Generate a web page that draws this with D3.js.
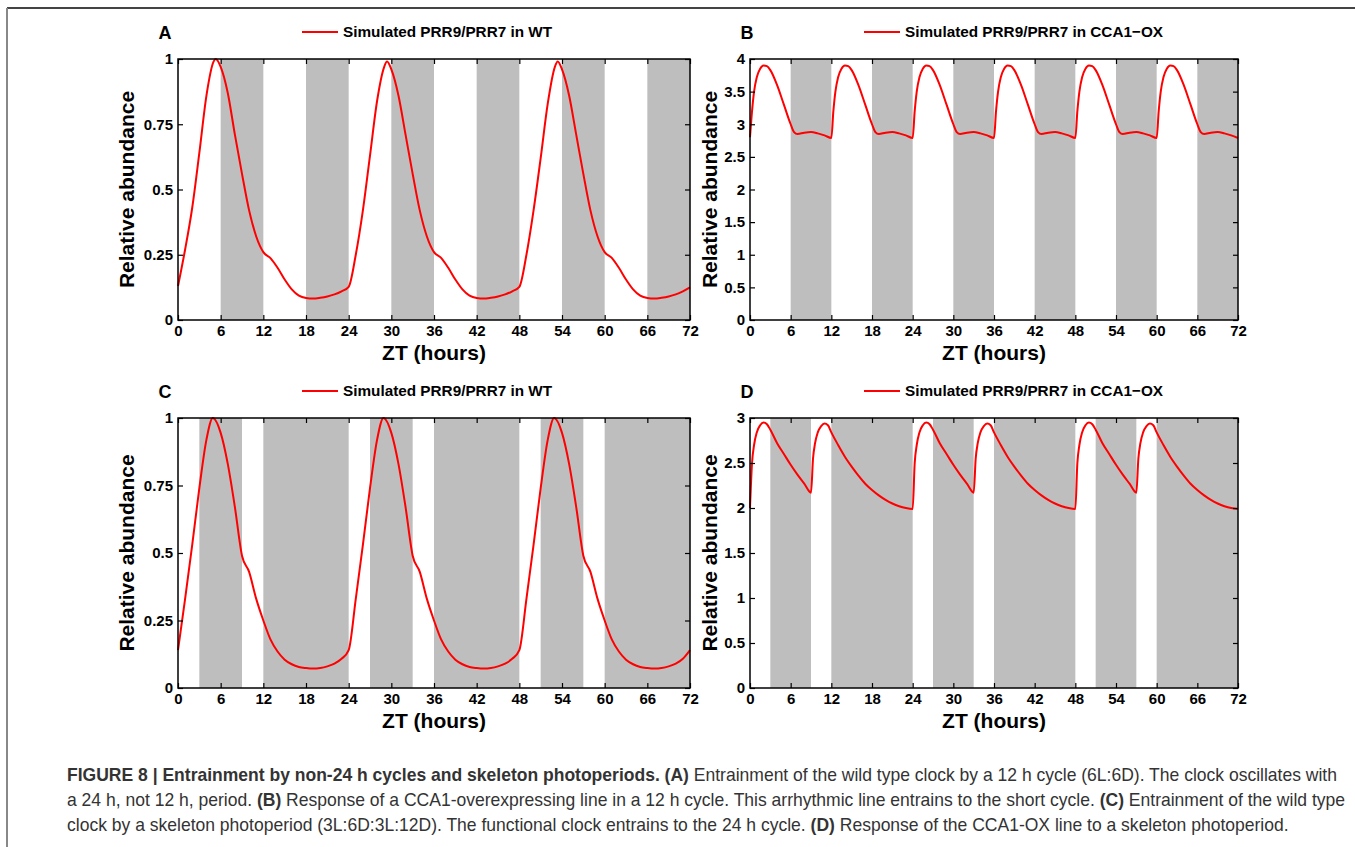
<!DOCTYPE html>
<html>
<head>
<meta charset="utf-8">
<script src="https://d3js.org/d3.v7.min.js"></script>
<style>
  body { margin: 0; background: #ffffff; }
  svg { display: block; font-family: "Liberation Sans", Arial, sans-serif; }
  .tick text { font-weight: bold; font-size: 15px; fill: #000; }
  .domain { stroke: none; }
  .tick line { stroke: #000; stroke-width: 1.2px; }
</style>
</head>
<body>
<div id="chart"></div>
<script>
// ---- data ----
const xTicks = [0, 6, 12, 18, 24, 30, 36, 42, 48, 54, 60, 66, 72];
const yTicksWT = [0, 0.25, 0.5, 0.75, 1];
const yTicksB = [0, 0.5, 1, 1.5, 2, 2.5, 3, 3.5, 4];
const yTicksD = [0, 0.5, 1, 1.5, 2, 2.5, 3];

// dark intervals [start, end] in ZT hours
const darkCycle12 = [[6, 12], [18, 24], [30, 36], [42, 48], [54, 60], [66, 72]];
const darkSkeleton = [[3, 9], [12, 24], [27, 33], [36, 48], [51, 57], [60, 72]];

// A: WT in 6L:6D  [ZT, abundance]
const seriesA = [
  [0,0.13],[1,0.27],[2,0.43],[3,0.64],[4,0.86],[5,0.99],[5.3,1.0],[6,0.97],[7,0.87],[8,0.71],[9,0.56],[10,0.42],[11,0.32],[12,0.26],
  [13,0.237],[14,0.2],[15,0.155],[16,0.117],[17,0.093],[18,0.084],[19,0.082],[20,0.085],[21,0.09],[22,0.098],[23,0.11],[24,0.127],
  [25,0.25],[26,0.42],[27,0.63],[28,0.84],[29,0.97],[29.4,0.99],[30,0.96],[31,0.86],[32,0.71],[33,0.56],[34,0.42],[35,0.32],[36,0.26],
  [37,0.238],[38,0.2],[39,0.155],[40,0.117],[41,0.093],[42,0.084],[43,0.082],[44,0.085],[45,0.09],[46,0.098],[47,0.11],[48,0.127],
  [49,0.25],[50,0.42],[51,0.62],[52,0.83],[53,0.97],[53.4,0.99],[54,0.96],[55,0.86],[56,0.71],[57,0.56],[58,0.42],[59,0.32],[60,0.26],
  [61,0.238],[62,0.2],[63,0.155],[64,0.117],[65,0.093],[66,0.084],[67,0.082],[68,0.085],[69,0.09],[70,0.098],[71,0.11],[72,0.125]
];

// B: CCA1-OX in 6L:6D
const seriesB = [
  [0,2.8],[0.3,3.2],[0.6,3.5],[1,3.72],[1.5,3.85],[2,3.9],[2.5,3.89],[3,3.83],[4,3.6],[5,3.3],[6,3.0],[6.5,2.88],[7,2.85],[8,2.87],[9,2.88],[10,2.86],[11,2.83],[12,2.79],
  [12.3,3.2],[12.6,3.5],[13,3.72],[13.5,3.85],[14,3.9],[14.5,3.89],[15,3.83],[16,3.6],[17,3.3],[18,3.0],[18.5,2.88],[19,2.85],[20,2.87],[21,2.88],[22,2.86],[23,2.83],[24,2.79],
  [24.3,3.2],[24.6,3.5],[25,3.72],[25.5,3.85],[26,3.9],[26.5,3.89],[27,3.83],[28,3.6],[29,3.3],[30,3.0],[30.5,2.88],[31,2.85],[32,2.87],[33,2.88],[34,2.86],[35,2.83],[36,2.79],
  [36.3,3.2],[36.6,3.5],[37,3.72],[37.5,3.85],[38,3.9],[38.5,3.89],[39,3.83],[40,3.6],[41,3.3],[42,3.0],[42.5,2.88],[43,2.85],[44,2.87],[45,2.88],[46,2.86],[47,2.83],[48,2.79],
  [48.3,3.2],[48.6,3.5],[49,3.72],[49.5,3.85],[50,3.9],[50.5,3.89],[51,3.83],[52,3.6],[53,3.3],[54,3.0],[54.5,2.88],[55,2.85],[56,2.87],[57,2.88],[58,2.86],[59,2.83],[60,2.79],
  [60.3,3.2],[60.6,3.5],[61,3.72],[61.5,3.85],[62,3.9],[62.5,3.89],[63,3.83],[64,3.6],[65,3.3],[66,3.0],[66.5,2.88],[67,2.85],[68,2.87],[69,2.88],[70,2.86],[71,2.83],[72,2.79]
];

// C: WT in skeleton photoperiod
const seriesC = [
  [0,0.14],[1,0.33],[2,0.53],[3,0.74],[4,0.92],[4.9,1.0],[6,0.945],[7,0.83],[8,0.67],[9,0.49],[10,0.43],[11,0.33],[12,0.25],
  [13,0.18],[14,0.135],[15,0.105],[16,0.088],[17,0.078],[18,0.074],[19,0.072],[20,0.074],[21,0.08],[22,0.09],[23,0.108],[24,0.14],
  [25,0.33],[26,0.53],[27,0.74],[28,0.92],[28.9,1.0],[30,0.945],[31,0.83],[32,0.67],[33,0.49],[34,0.43],[35,0.33],[36,0.25],
  [37,0.18],[38,0.135],[39,0.105],[40,0.088],[41,0.078],[42,0.074],[43,0.072],[44,0.074],[45,0.08],[46,0.09],[47,0.108],[48,0.14],
  [49,0.33],[50,0.53],[51,0.74],[52,0.92],[52.9,1.0],[54,0.945],[55,0.83],[56,0.67],[57,0.49],[58,0.43],[59,0.33],[60,0.25],
  [61,0.18],[62,0.135],[63,0.105],[64,0.088],[65,0.078],[66,0.074],[67,0.072],[68,0.074],[69,0.08],[70,0.09],[71,0.108],[72,0.14]
];

// D: CCA1-OX in skeleton photoperiod
const seriesD = [
  [0,2.0],[0.3,2.5],[0.6,2.7],[1,2.84],[1.5,2.92],[2,2.95],[2.5,2.93],[3,2.87],[4,2.72],[5,2.6],[6,2.48],[7,2.37],[8,2.27],[9,2.17],
  [9.3,2.55],[9.6,2.72],[10,2.84],[10.5,2.91],[11,2.94],[11.5,2.92],[12,2.84],[13,2.7],[14,2.57],[15,2.46],[16,2.36],[17,2.27],[18,2.2],[19,2.14],[20,2.09],[21,2.05],[22,2.02],[23,2.0],[24,1.99],
  [24.3,2.5],[24.6,2.7],[25,2.84],[25.5,2.92],[26,2.95],[26.5,2.93],[27,2.87],[28,2.72],[29,2.6],[30,2.48],[31,2.37],[32,2.27],[33,2.17],
  [33.3,2.55],[33.6,2.72],[34,2.84],[34.5,2.91],[35,2.94],[35.5,2.92],[36,2.84],[37,2.7],[38,2.57],[39,2.46],[40,2.36],[41,2.27],[42,2.2],[43,2.14],[44,2.09],[45,2.05],[46,2.02],[47,2.0],[48,1.99],
  [48.3,2.5],[48.6,2.7],[49,2.84],[49.5,2.92],[50,2.95],[50.5,2.93],[51,2.87],[52,2.72],[53,2.6],[54,2.48],[55,2.37],[56,2.27],[57,2.17],
  [57.3,2.55],[57.6,2.72],[58,2.84],[58.5,2.91],[59,2.94],[59.5,2.92],[60,2.84],[61,2.7],[62,2.57],[63,2.46],[64,2.36],[65,2.27],[66,2.2],[67,2.14],[68,2.09],[69,2.05],[70,2.02],[71,2.0],[72,1.99]
];

const captionLines = [
  [["FIGURE 8 | Entrainment by non-24 h cycles and skeleton photoperiods. (A)", true], [" Entrainment of the wild type clock by a 12 h cycle (6L:6D). The clock oscillates with", false]],
  [["a 24 h, not 12 h, period. ", false], ["(B)", true], [" Response of a CCA1-overexpressing line in a 12 h cycle. This arrhythmic line entrains to the short cycle. ", false], ["(C)", true], [" Entrainment of the wild type", false]],
  [["clock by a skeleton photoperiod (3L:6D:3L:12D). The functional clock entrains to the 24 h cycle. ", false], ["(D)", true], [" Response of the CCA1-OX line to a skeleton photoperiod.", false]]
];

// ---- layout ----
const W = 1355, H = 847;
const panels = [
  {letter: "A", legend: "Simulated PRR9/PRR7 in WT", data: seriesA, dark: darkCycle12, yMax: 1, yTicks: yTicksWT,
   x0: 178, x1: 690, y0: 59, y1: 320, legX: 302, letX: 165, yLabX: 134},
  {letter: "B", legend: "Simulated PRR9/PRR7 in CCA1\u2212OX", data: seriesB, dark: darkCycle12, yMax: 4, yTicks: yTicksB,
   x0: 750, x1: 1238, y0: 59, y1: 320, legX: 864, letX: 747, yLabX: 717},
  {letter: "C", legend: "Simulated PRR9/PRR7 in WT", data: seriesC, dark: darkSkeleton, yMax: 1, yTicks: yTicksWT,
   x0: 178, x1: 690, y0: 418, y1: 688, legX: 302, letX: 165, yLabX: 134},
  {letter: "D", legend: "Simulated PRR9/PRR7 in CCA1\u2212OX", data: seriesD, dark: darkSkeleton, yMax: 3, yTicks: yTicksD,
   x0: 750, x1: 1238, y0: 418, y1: 688, legX: 864, letX: 747, yLabX: 717}
];

const svg = d3.select("#chart").append("svg")
    .attr("width", W)
    .attr("height", H);

// outer frame (top and left rule)
svg.append("line").attr("x1", 7).attr("x2", W).attr("y1", 8).attr("y2", 8)
    .attr("stroke", "#444").attr("stroke-width", 2);
svg.append("line").attr("x1", 7).attr("x2", 7).attr("y1", 8).attr("y2", H)
    .attr("stroke", "#888").attr("stroke-width", 2);

panels.forEach(function(p) {
    const x = d3.scaleLinear().domain([0, 72]).range([p.x0, p.x1]);
    const y = d3.scaleLinear().domain([0, p.yMax]).range([p.y1, p.y0]);
    const g = svg.append("g");

    // dark periods
    g.selectAll("rect.dark")
        .data(p.dark)
        .enter().append("rect")
        .attr("class", "dark")
        .attr("x", d => x(d[0]))
        .attr("width", d => x(d[1]) - x(d[0]))
        .attr("y", y(p.yMax))
        .attr("height", y(0) - y(p.yMax))
        .attr("fill", "#bebebe");

    // curve
    const line = d3.line()
        .x(d => x(d[0]))
        .y(d => y(d[1]))
        .curve(d3.curveMonotoneX);
    g.append("path")
        .datum(p.data)
        .attr("d", line)
        .attr("fill", "none")
        .attr("stroke", "#ff0000")
        .attr("stroke-width", 2);

    // axes with inward ticks on all sides
    g.append("g")
        .attr("transform", "translate(0," + p.y1 + ")")
        .call(d3.axisBottom(x).tickValues(xTicks).tickSizeInner(-5).tickSizeOuter(0).tickPadding(5));
    g.append("g")
        .attr("transform", "translate(0," + p.y0 + ")")
        .call(d3.axisTop(x).tickValues(xTicks).tickSizeInner(-5).tickSizeOuter(0).tickFormat(""));
    g.append("g")
        .attr("transform", "translate(" + p.x0 + ",0)")
        .call(d3.axisLeft(y).tickValues(p.yTicks).tickSizeInner(-5).tickSizeOuter(0).tickPadding(5).tickFormat(d3.format("")));
    g.append("g")
        .attr("transform", "translate(" + p.x1 + ",0)")
        .call(d3.axisRight(y).tickValues(p.yTicks).tickSizeInner(-5).tickSizeOuter(0).tickFormat(""));

    // box
    g.append("rect")
        .attr("x", p.x0).attr("y", p.y0)
        .attr("width", p.x1 - p.x0).attr("height", p.y1 - p.y0)
        .attr("fill", "none").attr("stroke", "#000").attr("stroke-width", 1.5);

    // axis titles
    g.append("text")
        .attr("x", (p.x0 + p.x1) / 2)
        .attr("y", p.y1 + 40)
        .attr("text-anchor", "middle")
        .style("font-weight", "bold").style("font-size", "21px")
        .text("ZT (hours)");
    g.append("text")
        .attr("transform", "translate(" + p.yLabX + "," + ((p.y0 + p.y1) / 2) + ") rotate(-90)")
        .attr("text-anchor", "middle")
        .style("font-weight", "bold").style("font-size", "21px")
        .text("Relative abundance");

    // panel letter
    g.append("text")
        .attr("x", p.letX)
        .attr("y", p.y0 - 20)
        .attr("text-anchor", "middle")
        .style("font-weight", "bold").style("font-size", "18px")
        .text(p.letter);

    // legend
    g.append("line")
        .attr("x1", p.legX).attr("x2", p.legX + 36)
        .attr("y1", p.y0 - 27).attr("y2", p.y0 - 27)
        .attr("stroke", "#ff0000").attr("stroke-width", 2);
    g.append("text")
        .attr("x", p.legX + 41)
        .attr("y", p.y0 - 22)
        .style("font-weight", "bold").style("font-size", "15.3px")
        .text(p.legend);
});

// caption, sized so the first line spans the figure width
const cap = svg.append("g").style("font-size", "15px").style("fill", "#333");
const capTexts = captionLines.map(function(parts, i) {
    const t = cap.append("text")
        .attr("x", 67)
        .attr("y", 781 + i * 25);
    parts.forEach(function(part) {
        t.append("tspan")
            .style("font-weight", part[1] ? "bold" : "normal")
            .text(part[0]);
    });
    return t;
});
const firstWidth = capTexts[0].node().getComputedTextLength();
cap.style("font-size", (15 * 1271 / firstWidth).toFixed(2) + "px");
</script>
</body>
</html>
